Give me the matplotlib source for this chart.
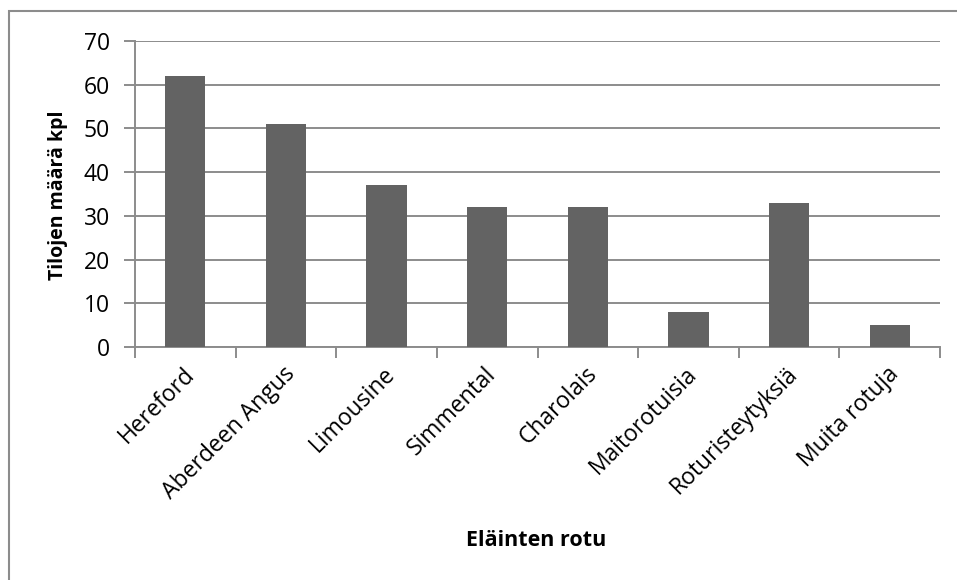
import matplotlib.pyplot as plt
from matplotlib.patches import Rectangle
from matplotlib.transforms import ScaledTranslation

plt.rcParams['font.family'] = ['Open Sans', 'DejaVu Sans']

breeds = ["Hereford", "Aberdeen Angus", "Limousine", "Simmental", "Charolais",
          "Maitorotuisia", "Roturisteytyksiä", "Muita rotuja"]
farms = [62, 51, 37, 32, 32, 8, 33, 5]

grid_col = "#8c8c8c"
bar_col = "#636363"

fig = plt.figure(figsize=(9.57, 5.8), dpi=100)
ax = fig.add_axes([135 / 957, 1 - 347 / 580, 805 / 957, 306 / 580])

x = range(len(breeds))
ax.bar(x, farms, width=0.4, color=bar_col, zorder=3)

ax.set_xlim(-0.5, len(breeds) - 0.5)
ax.set_ylim(0, 70)
ax.set_yticks(range(0, 71, 10))
ax.yaxis.grid(True, color=grid_col, linewidth=1.4, zorder=0)

# category ticks sit on the boundaries between bars
ax.set_xticks([i - 0.5 for i in range(len(breeds) + 1)])
ax.set_xticklabels([])
ax.set_xticks(list(x), minor=True)
ax.set_xticklabels(breeds, minor=True, rotation=45, ha="right",
                   rotation_mode="anchor", fontsize=16.5)
ax.tick_params(axis="x", which="minor", length=0, pad=11)
ax.tick_params(axis="x", which="major", length=8, width=1.4, color=grid_col)
ax.tick_params(axis="y", length=8, width=1.4, color=grid_col, labelsize=16.5, pad=10)
for lbl in ax.get_xticklabels(minor=True):
    lbl.set_transform(lbl.get_transform() + ScaledTranslation(-3 / 100, 0, fig.dpi_scale_trans))

for side in ["top", "right"]:
    ax.spines[side].set_visible(False)
for side in ["left", "bottom"]:
    ax.spines[side].set_color(grid_col)
    ax.spines[side].set_linewidth(1.4)

ax.set_ylabel("Tilojen määrä kpl", fontsize=14, fontweight="bold", va="center")
ax.yaxis.set_label_coords(58 / 957, 1 - 195 / 580, transform=fig.transFigure)
ax.set_xlabel("Eläinten rotu", fontsize=15.5, fontweight="bold", va="center")
ax.xaxis.set_label_coords(536 / 957, 1 - 540 / 580, transform=fig.transFigure)

# chart area frame
fig.patches.append(Rectangle((8.5 / 957, -0.1), 1.2, 1 - 10.5 / 580 + 0.1,
                             transform=fig.transFigure, fill=False,
                             edgecolor=grid_col, linewidth=1.5))

fig.savefig("out.png", dpi=100)
